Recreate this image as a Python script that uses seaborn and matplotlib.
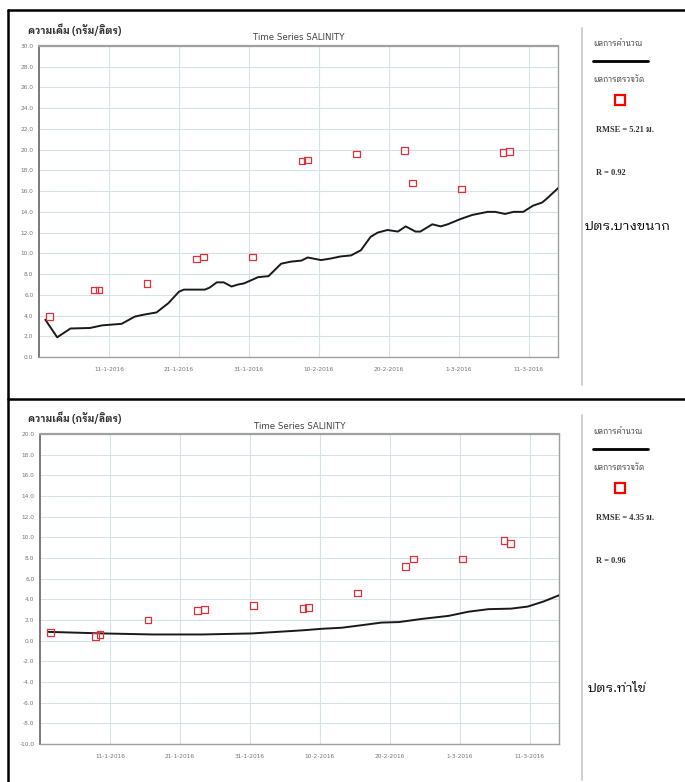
import numpy as np
import pandas as pd
import matplotlib
matplotlib.use("Agg")
import matplotlib.pyplot as plt
from matplotlib.lines import Line2D
from matplotlib.patches import Rectangle
from matplotlib import font_manager
from matplotlib.ft2font import FT2Font
import matplotlib.ticker as mticker
import matplotlib.dates as mdates
import seaborn as sns


def families_with(char):
    """Installed font families that contain a glyph for `char`.

    Looped sans faces come first, then other sans faces, serif last."""
    found = []
    for entry in font_manager.fontManager.ttflist:
        try:
            cmap = FT2Font(entry.fname).get_charmap()
        except Exception:
            continue
        if ord(char) in cmap and entry.name not in found:
            found.append(entry.name)

    def rank(name):
        low = name.lower()
        if "serif" in low and "sans" not in low:
            return 3
        if "looped" in low:
            return 0
        if "sans" in low:
            return 1
        return 2

    return sorted(found, key=rank)


thai_fams = families_with("ก")
sns.set_theme(style="white")
SANS = thai_fams + ["DejaVu Sans"]
SERIF = ["Liberation Serif"] + thai_fams
plt.rcParams["font.family"] = SANS

START = pd.Timestamp("2016-01-01")
END = pd.Timestamp("2016-03-15 04:00")

# Station 1: Bang Khanak gate
bk_sim_day = [0.9, 2.6, 4.5, 7.3, 9.0, 11.8, 13.7, 15.1, 16.8, 18.5, 20.0, 20.7,
              23.7, 24.4, 25.4, 26.4, 27.5, 28.5, 29.3, 31.3, 32.8, 34.6, 36.0,
              37.5, 38.4, 40.3, 41.7, 43.1, 44.6, 46.0, 47.4, 48.4, 49.8, 51.3,
              52.4, 53.8, 54.5, 56.2, 57.4, 58.4, 60.2, 61.9, 64.1, 65.2, 66.6,
              67.8, 69.2, 70.6, 71.9, 72.6, 74.2]
bk_sim_val = [3.6, 1.9, 2.75, 2.8, 3.05, 3.2, 3.9, 4.1, 4.3, 5.2, 6.3, 6.5,
              6.5, 6.7, 7.2, 7.2, 6.8, 7.0, 7.1, 7.7, 7.8, 9.0, 9.2,
              9.3, 9.6, 9.35, 9.5, 9.7, 9.8, 10.3, 11.6, 12.0, 12.25, 12.1,
              12.6, 12.1, 12.1, 12.8, 12.6, 12.8, 13.3, 13.7, 14.0, 14.0, 13.8,
              14.0, 14.0, 14.6, 14.9, 15.3, 16.3]
bk_obs_day = [1.5, 7.9, 8.6, 15.4, 22.5, 23.5, 30.5, 37.6, 38.4, 45.4, 52.2,
              53.4, 60.4, 66.3, 67.2]
bk_obs_val = [3.9, 6.45, 6.45, 7.1, 9.45, 9.65, 9.65, 18.9, 19.0, 19.6, 19.9,
              16.8, 16.2, 19.75, 19.8]

# Station 2: Tha Khai gate
tk_sim_day = [1.2, 9.0, 16.1, 23.2, 30.3, 37.5, 40.3, 43.1, 46.0, 48.8, 51.3,
              54.5, 58.4, 61.2, 64.1, 67.3, 69.7, 72.0, 74.2]
tk_sim_val = [0.85, 0.7, 0.6, 0.6, 0.7, 1.0, 1.15, 1.25, 1.5, 1.75, 1.8,
              2.1, 2.4, 2.8, 3.05, 3.1, 3.3, 3.8, 4.4]
tk_obs_day = [1.5, 7.9, 8.6, 15.4, 22.5, 23.5, 30.5, 37.6, 38.4, 45.4, 52.2,
              53.4, 60.4, 66.3, 67.2]
tk_obs_val = [0.8, 0.4, 0.6, 2.0, 2.9, 3.0, 3.4, 3.1, 3.2, 4.6, 7.2,
              7.9, 7.9, 9.7, 9.4]

tick_dates = ["2016-01-11", "2016-01-21", "2016-01-31", "2016-02-10",
              "2016-02-20", "2016-03-01", "2016-03-11"]

stations = [
    dict(name="ปตร.บางขนาก", rmse="RMSE = 5.21 ม.", r="R = 0.92",
         sim=(bk_sim_day, bk_sim_val), obs=(bk_obs_day, bk_obs_val),
         ylim=(0, 30)),
    dict(name="ปตร.ท่าไข่", rmse="RMSE = 4.35 ม.", r="R = 0.96",
         sim=(tk_sim_day, tk_sim_val), obs=(tk_obs_day, tk_obs_val),
         ylim=(-10, 20)),
]

W, H = 685, 782
fig = plt.figure(figsize=(W / 100, H / 100), dpi=100)
fig.patch.set_facecolor("white")


def fx(px):
    return px / W


def fy(py):
    return 1 - py / H


def to_dates(days):
    return START + pd.to_timedelta(np.asarray(days, dtype=float), unit="D")


# panel geometry in pixels
panels = [
    dict(left=39, right=558, top=46, bottom=357, off=0),
    dict(left=40, right=559, top=434, bottom=744, off=388),
]

grid_c = "#d6e2ea"
tick_c = "#8a8a8a"

for st, pn in zip(stations, panels):
    ax = fig.add_axes([fx(pn["left"]), fy(pn["bottom"]),
                       fx(pn["right"] - pn["left"]),
                       (pn["bottom"] - pn["top"]) / H])
    sim = pd.DataFrame({"date": to_dates(st["sim"][0]), "val": st["sim"][1]})
    obs = pd.DataFrame({"date": to_dates(st["obs"][0]), "val": st["obs"][1]})
    sns.lineplot(data=sim, x="date", y="val", ax=ax, color="#1a1a1a",
                 linewidth=1.4, zorder=3)
    sns.scatterplot(data=obs, x="date", y="val", ax=ax, marker="s", s=22,
                    facecolor="none", edgecolor="#e0303a", linewidth=0.9,
                    zorder=4)
    ax.set_xlim(START, END)
    ax.set_ylim(*st["ylim"])
    ax.yaxis.set_major_locator(mticker.MultipleLocator(2))
    ax.yaxis.set_major_formatter(mticker.FormatStrFormatter("%.1f"))
    ticks = pd.to_datetime(tick_dates)
    ax.set_xticks(mdates.date2num(ticks))
    ax.set_xticklabels([f"{d.day}-{d.month}-{d.year}" for d in ticks])
    ax.set_xlabel("")
    ax.set_ylabel("")
    ax.grid(True, color=grid_c, linewidth=0.8)
    ax.set_axisbelow(True)
    ax.tick_params(axis="both", labelsize=4.2, colors=tick_c, length=2,
                   width=0.6, pad=2, labelcolor="#777777")
    ax.tick_params(axis="x", pad=5)
    for lab in ax.get_xticklabels() + ax.get_yticklabels():
        lab.set_family(["DejaVu Sans"])
    for sp in ax.spines.values():
        sp.set_color("#a0a0a0")
        sp.set_linewidth(1.0)
    ax.spines["left"].set_color("#707070")
    ax.spines["left"].set_linewidth(1.3)
    ax.spines["top"].set_linewidth(1.6)

    off = pn["off"]
    fig.text(fx((pn["left"] + pn["right"]) / 2), fy(38 + off), "Time Series SALINITY",
             ha="center", va="center", fontsize=6.2, color="#444444",
             family=["DejaVu Sans"])
    fig.text(fx(28), fy(30 + off), "ความเค็ม (กรัม/ลิตร)", ha="left", va="center",
             fontsize=7, color="#333333", fontweight="bold", family=SANS)

    # side legend and statistics
    fig.text(fx(593), fy(44 + off), "ผลการคำนวณ", ha="left", va="center",
             fontsize=5.5, color="#333333", family=SANS)
    fig.add_artist(Line2D([fx(593), fx(648)], [fy(61 + off)] * 2,
                          color="black", linewidth=2.0))
    fig.text(fx(593), fy(80 + off), "ผลการตรวจวัด", ha="left", va="center",
             fontsize=5.5, color="#333333", family=SANS)
    fig.add_artist(Rectangle((fx(615), fy(105 + off)), fx(10), 10 / H,
                             facecolor="none", edgecolor="#ff0000",
                             linewidth=1.6))
    fig.text(fx(596), fy(130 + off), st["rmse"], ha="left", va="center",
             fontsize=6, color="#333333", family=SERIF, fontweight="bold")
    fig.text(fx(596), fy(173 + off), st["r"], ha="left", va="center",
             fontsize=6, color="#333333", family=SERIF, fontweight="bold")

fig.text(fx(585), fy(226), stations[0]["name"], ha="left", va="center",
         fontsize=9.5, color="black", family=SANS)
fig.text(fx(588), fy(688), stations[1]["name"], ha="left", va="center",
         fontsize=9.5, color="black", family=SANS)

# panel frames and separators
fig.add_artist(Line2D([fx(8), fx(685)], [fy(10), fy(10)], color="black", linewidth=1.8))
fig.add_artist(Line2D([fx(8), fx(685)], [fy(399), fy(399)], color="black", linewidth=1.8))
fig.add_artist(Line2D([fx(8), fx(8)], [fy(10), fy(782)], color="black", linewidth=1.8))
fig.add_artist(Line2D([fx(582), fx(582)], [fy(28), fy(385)], color="#c8c8c8", linewidth=1.2))
fig.add_artist(Line2D([fx(582), fx(582)], [fy(415), fy(780)], color="#c8c8c8", linewidth=1.2))

fig.savefig("out.png", dpi=100, facecolor="white")
